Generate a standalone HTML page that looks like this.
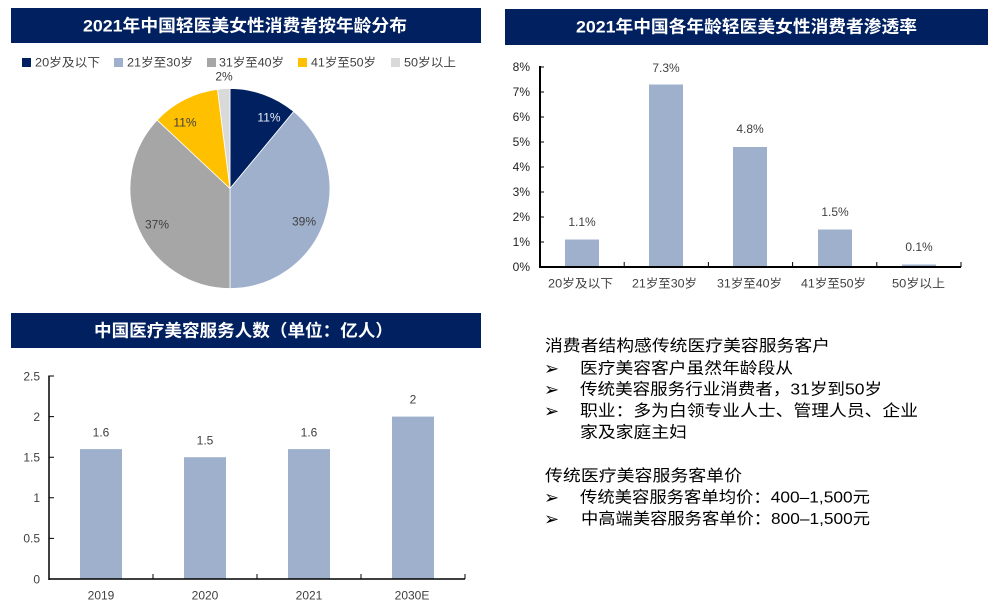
<!DOCTYPE html>
<html><head><meta charset="utf-8"><style>
html,body{margin:0;padding:0;background:#fff;}
svg{display:block;}
.t{font-family:"Liberation Sans","Noto Sans CJK SC",sans-serif;}
</style></head><body>
<svg width="1001" height="613" viewBox="0 0 1001 613" xmlns="http://www.w3.org/2000/svg" class="t">
<!-- Title bars -->
<rect x="11" y="8" width="470" height="35" fill="#002060"/>
<rect x="505" y="9" width="483" height="36" fill="#002060"/>
<rect x="11" y="313" width="470" height="35" fill="#002060"/>
<g fill="#fff" font-weight="bold" font-size="17" font-family="'Liberation Sans','Noto Sans CJK SC',sans-serif">
<text x="83" y="31.5" textLength="324" lengthAdjust="spacingAndGlyphs">2021年中国轻医美女性消费者按年龄分布</text>
<text x="576" y="32.5" textLength="341" lengthAdjust="spacingAndGlyphs">2021年中国各年龄轻医美女性消费者渗透率</text>
<text x="94" y="336.5" textLength="299" lengthAdjust="spacingAndGlyphs">中国医疗美容服务人数（单位：亿人）</text>
</g>

<!-- Legend -->
<g font-size="12" fill="#404040">
<rect x="22" y="58" width="9" height="9" fill="#002060"/>
<text x="35" y="66.5" textLength="65" lengthAdjust="spacingAndGlyphs">20岁及以下</text>
<rect x="114" y="58" width="9" height="9" fill="#9FB0CD"/>
<text x="127" y="66.5" textLength="66" lengthAdjust="spacingAndGlyphs">21岁至30岁</text>
<rect x="207" y="58" width="9" height="9" fill="#A6A6A6"/>
<text x="219" y="66.5" textLength="65" lengthAdjust="spacingAndGlyphs">31岁至40岁</text>
<rect x="298" y="58" width="9" height="9" fill="#FFC000"/>
<text x="311" y="66.5" textLength="65" lengthAdjust="spacingAndGlyphs">41岁至50岁</text>
<rect x="391" y="58" width="9" height="9" fill="#D9D9D9"/>
<text x="404" y="66.5" textLength="52" lengthAdjust="spacingAndGlyphs">50岁以上</text>
</g>

<!-- Pie -->
<g stroke="#fff" stroke-width="0.8">
<path d="M230,188.5 L230,88.5 A100,100 0 0 1 293.7,111.5 Z" fill="#002060"/>
<path d="M230,188.5 L293.7,111.5 A100,100 0 0 1 230,288.5 Z" fill="#9FB0CD"/>
<path d="M230,188.5 L230,288.5 A100,100 0 0 1 157.1,120.05 Z" fill="#A6A6A6"/>
<path d="M230,188.5 L157.1,120.05 A100,100 0 0 1 217.5,89.3 Z" fill="#FFC000"/>
<path d="M230,188.5 L217.5,89.3 A100,100 0 0 1 230,88.5 Z" fill="#D9D9D9"/>
</g>
<g font-size="12" text-anchor="middle" fill="#404040">
<text x="269" y="121.5" fill="#E8EEF8">11%</text>
<text x="304" y="225.5">39%</text>
<text x="157" y="228.5">37%</text>
<text x="185" y="126.5">11%</text>
<text x="224" y="80.5">2%</text>
</g>

<!-- Right bar chart -->
<g font-size="12" fill="#222" text-anchor="end">
<text x="530" y="71">8%</text>
<text x="530" y="96">7%</text>
<text x="530" y="121">6%</text>
<text x="530" y="146">5%</text>
<text x="530" y="171">4%</text>
<text x="530" y="196">3%</text>
<text x="530" y="221">2%</text>
<text x="530" y="246">1%</text>
<text x="530" y="271">0%</text>
</g>
<g fill="#9FB0CD">
<rect x="565" y="239.5" width="34" height="27.5"/>
<rect x="649" y="84.5" width="34" height="182.5"/>
<rect x="733" y="147" width="34" height="120"/>
<rect x="818" y="229.5" width="34" height="37.5"/>
<rect x="902" y="264.5" width="34" height="2.5"/>
</g>
<g stroke="#000" fill="none">
<path d="M540,66 V268" stroke-width="2"/>
<path d="M539,267 H961" stroke-width="2"/>
<path d="M540,67H544 M540,92H544 M540,117H544 M540,142H544 M540,167H544 M540,192H544 M540,217H544 M540,242H544" stroke-width="1"/>
<path d="M624.2,267V262 M708.4,267V262 M792.6,267V262 M876.8,267V262 M961,267V262" stroke-width="1"/>
</g>
<g font-size="12" fill="#404040" text-anchor="middle">
<text x="582" y="226">1.1%</text>
<text x="666" y="72">7.3%</text>
<text x="750" y="133">4.8%</text>
<text x="835" y="216">1.5%</text>
<text x="919" y="251">0.1%</text>
</g>
<g font-size="12" fill="#404040">
<text x="548" y="287.5" textLength="65" lengthAdjust="spacingAndGlyphs">20岁及以下</text>
<text x="632" y="287.5" textLength="65" lengthAdjust="spacingAndGlyphs">21岁至30岁</text>
<text x="717" y="287.5" textLength="65" lengthAdjust="spacingAndGlyphs">31岁至40岁</text>
<text x="801" y="287.5" textLength="65" lengthAdjust="spacingAndGlyphs">41岁至50岁</text>
<text x="892" y="287.5" textLength="53" lengthAdjust="spacingAndGlyphs">50岁以上</text>
</g>

<!-- Bottom-left bar chart -->
<g font-size="12" fill="#404040" text-anchor="end">
<text x="40" y="380.5">2.5</text>
<text x="40" y="421">2</text>
<text x="40" y="461.5">1.5</text>
<text x="40" y="502">1</text>
<text x="40" y="542.5">0.5</text>
<text x="40" y="583.5">0</text>
</g>
<g fill="#9FB0CD">
<rect x="80" y="449.1" width="42" height="129.9"/>
<rect x="184" y="457.2" width="42" height="121.8"/>
<rect x="288" y="449.1" width="42" height="129.9"/>
<rect x="392" y="416.6" width="42" height="162.4"/>
</g>
<g stroke="#000" fill="none">
<path d="M49,375.5V580" stroke-width="1.5"/>
<path d="M48.5,579H465" stroke-width="1.5"/>
<path d="M49,376H54 M49,416.6H54 M49,457.2H54 M49,497.8H54 M49,538.4H54" stroke-width="1"/>
<path d="M153,579V574 M257,579V574 M361,579V574 M465,579V574" stroke-width="1"/>
</g>
<g font-size="12" fill="#404040" text-anchor="middle">
<text x="101" y="436.5">1.6</text>
<text x="205" y="444.5">1.5</text>
<text x="309" y="436.5">1.6</text>
<text x="413" y="403.5">2</text>
<text x="101" y="599.5">2019</text>
<text x="205" y="599.5">2020</text>
<text x="309" y="599.5">2021</text>
<text x="412" y="599.5">2030E</text>
</g>

<!-- Text block -->
<g font-size="16" fill="#000" font-family="'Liberation Sans','Noto Sans CJK SC',sans-serif">
<text x="545" y="351" textLength="285" lengthAdjust="spacingAndGlyphs">消费者结构感传统医疗美容服务客户</text>
<text x="544" y="374.5" font-family="'DejaVu Sans',sans-serif" font-size="18">➢</text>
<text x="580" y="373.5" textLength="213" lengthAdjust="spacingAndGlyphs">医疗美容客户虽然年龄段从</text>
<text x="544" y="395.5" font-family="'DejaVu Sans',sans-serif" font-size="18">➢</text>
<text x="580" y="394.5" textLength="302" lengthAdjust="spacingAndGlyphs">传统美容服务行业消费者，31岁到50岁</text>
<text x="544" y="417" font-family="'DejaVu Sans',sans-serif" font-size="18">➢</text>
<text x="580" y="416" textLength="338" lengthAdjust="spacingAndGlyphs">职业：多为白领专业人士、管理人员、企业</text>
<text x="580" y="437.5" textLength="107" lengthAdjust="spacingAndGlyphs">家及家庭主妇</text>
<text x="545" y="481" textLength="197" lengthAdjust="spacingAndGlyphs">传统医疗美容服务客单价</text>
<text x="544" y="503.5" font-family="'DejaVu Sans',sans-serif" font-size="18">➢</text>
<text x="580" y="502.5" textLength="290" lengthAdjust="spacingAndGlyphs">传统美容服务客单均价：400–1,500元</text>
<text x="544" y="525" font-family="'DejaVu Sans',sans-serif" font-size="18">➢</text>
<text x="581" y="524" textLength="289" lengthAdjust="spacingAndGlyphs">中高端美容服务客单价：800–1,500元</text>
</g>
</svg>
</body></html>
